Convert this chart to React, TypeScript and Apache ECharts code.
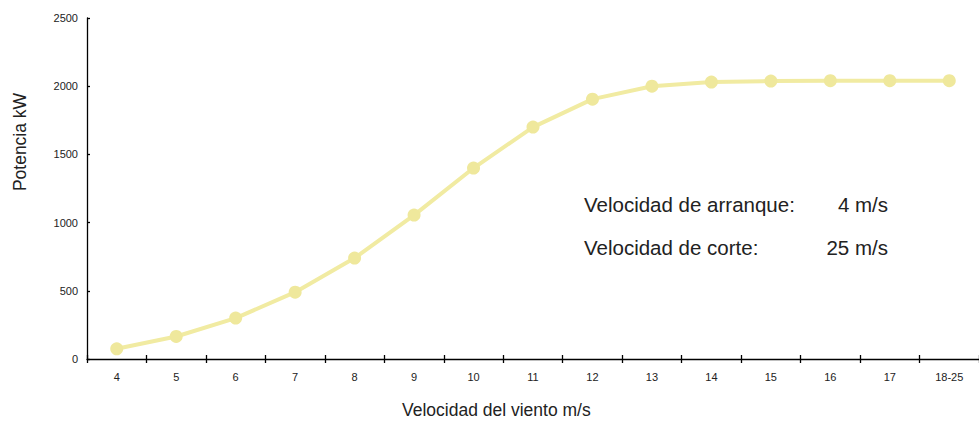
import React, { useEffect, useRef } from "react";
import * as echarts from "echarts";

const categories = ["4", "5", "6", "7", "8", "9", "10", "11", "12", "13", "14", "15", "16", "17", "18-25"];
const powerKW = [75, 165, 300, 490, 740, 1055, 1400, 1700, 1905, 2000, 2030, 2038, 2040, 2040, 2040];
const yTicks = { min: 0, max: 2500, interval: 500 };
const infoLines = [
  { label: "Velocidad de arranque:", value: "4 m/s" },
  { label: "Velocidad de corte:", value: "25 m/s" },
];
const xAxisName = "Velocidad del viento m/s";
const yAxisName = "Potencia kW";

const FONT = "'Liberation Sans', Arial, Helvetica, sans-serif";
const LINE_COLOR = "#F1EBA2";

export default function App() {
  const ref = useRef<HTMLDivElement>(null);
  useEffect(() => {
    if (!ref.current) return;
    const chart = echarts.init(ref.current, null, { renderer: "svg" });
    const axisLabelStyle = { color: "#222", fontSize: 11, fontFamily: FONT };
    chart.setOption({
      animation: false,
      backgroundColor: "#fff",
      grid: { left: 87, right: -7, top: 18, bottom: 64, containLabel: false },
      xAxis: [
        {
          type: "category",
          data: categories,
          boundaryGap: true,
          axisLine: { show: true, lineStyle: { color: "#000", width: 1.3 } },
          axisTick: { show: true, length: 4, inside: false, lineStyle: { color: "#000", width: 1.3 } },
          axisLabel: { ...axisLabelStyle, margin: 12 },
          splitLine: { show: false },
        },
        {
          type: "category",
          data: categories,
          position: "bottom",
          boundaryGap: true,
          axisLine: { show: false },
          axisTick: { show: true, length: 4, inside: true, lineStyle: { color: "#000", width: 1.3 } },
          axisLabel: { show: false },
          splitLine: { show: false },
        },
      ],
      yAxis: {
        type: "value",
        min: yTicks.min,
        max: yTicks.max,
        interval: yTicks.interval,
        axisLine: { show: true, lineStyle: { color: "#000", width: 1.3 } },
        axisTick: { show: true, length: 3, inside: true, lineStyle: { color: "#000", width: 1.3 } },
        axisLabel: { ...axisLabelStyle, margin: 9, formatter: (v: number) => String(v) },
        splitLine: { show: false },
      },
      series: [
        {
          type: "line",
          xAxisIndex: 0,
          data: powerKW,
          symbol: "circle",
          symbolSize: 13,
          lineStyle: { color: LINE_COLOR, width: 4 },
          itemStyle: { color: "#EFE89C" },
          z: 3,
        },
      ],
      graphic: [
        {
          type: "text",
          left: 402,
          top: 401,
          style: { text: xAxisName, fontSize: 17.5, fontFamily: FONT, fill: "#222" },
        },
        {
          type: "text",
          x: 20,
          y: 142,
          rotation: Math.PI / 2,
          style: {
            text: yAxisName,
            fontSize: 17.5,
            fontFamily: FONT,
            fill: "#222",
            textAlign: "center",
            textVerticalAlign: "middle",
          },
        },
        ...infoLines.flatMap((ln, i) => [
          {
            type: "text",
            x: 584,
            y: 204 + i * 43,
            style: {
              text: ln.label,
              fontSize: 20.5,
              fontFamily: FONT,
              fill: "#222",
              textAlign: "left",
              textVerticalAlign: "middle",
            },
          },
          {
            type: "text",
            x: 888,
            y: 204 + i * 43,
            style: {
              text: ln.value,
              fontSize: 20.5,
              fontFamily: FONT,
              fill: "#222",
              textAlign: "right",
              textVerticalAlign: "middle",
            },
          },
        ]),
      ],
    });
    return () => chart.dispose();
  }, []);
  return (
    <div
      ref={ref}
      style={{ position: "absolute", left: 0, top: 0, width: 979, height: 423, overflow: "hidden" }}
    />
  );
}
